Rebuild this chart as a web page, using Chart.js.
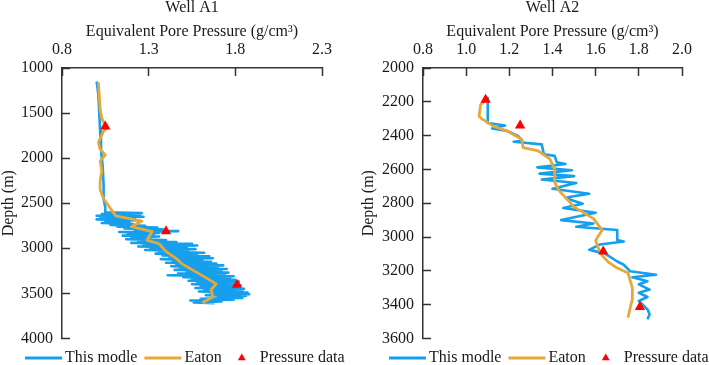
<!DOCTYPE html>
<html>
<head>
<meta charset="utf-8">
<title>Equivalent pore pressure - Well A1 and Well A2</title>
<script src="https://cdn.jsdelivr.net/npm/chart.js"></script>
<style>
  html, body { margin: 0; padding: 0; background: #fff; }
  body { width: 709px; height: 365px; position: relative; overflow: hidden; }
  canvas { position: absolute; top: 0; }
  #wellA1 { left: 0; }
  #wellA2 { left: 355px; }
</style>
</head>
<body>
<canvas id="wellA1" width="355" height="365"></canvas>
<canvas id="wellA2" width="354" height="365"></canvas>
<script>
// ---- Well A1 ----
const a1XTicks = [0.8, 1.3, 1.8, 2.3];
const a1YTicks = [1000, 1500, 2000, 2500, 3000, 3500, 4000];

// "This modle" curve (depth in m, equivalent pore pressure in g/cm3)
const a1ModelDepth = [1150, 1300, 1500, 1700, 1900, 2100, 2300, 2450, 2550, 2600,
  2610, 2620, 2630, 2640, 2650, 2660, 2670, 2680, 2690, 2700,
  2710, 2720, 2730, 2740, 2750, 2760, 2770, 2780, 2790, 2800,
  2810, 2820, 2830, 2840, 2850, 2860, 2870, 2880, 2890, 2900,
  2910, 2920, 2930, 2940, 2950, 2960, 2970, 2980, 2990, 3000,
  3010, 3020, 3030, 3040, 3050, 3060, 3070, 3080, 3090, 3100,
  3110, 3120, 3130, 3140, 3150, 3160, 3170, 3180, 3190, 3200,
  3210, 3220, 3230, 3240, 3250, 3260, 3270, 3280, 3290, 3300,
  3310, 3320, 3330, 3340, 3350, 3360, 3370, 3380, 3390, 3400,
  3410, 3420, 3430, 3440, 3450, 3460, 3470, 3480, 3490, 3500,
  3510, 3520, 3530, 3540, 3550, 3560, 3570, 3580, 3590, 3600, 3610];
const a1ModelEP = [1.00, 1.01, 1.015, 1.02, 1.025, 1.035, 1.04, 1.04, 1.05, 1.05,
  1.26, 1.03, 1.25, 1.00, 1.27, 1.02, 1.22, 1.00, 1.24, 1.05,
  1.19, 1.03, 1.21, 1.08, 1.28, 1.12, 1.35, 1.16, 1.38, 1.22,
  1.47, 1.13, 1.36, 1.18, 1.33, 1.15, 1.36, 1.20, 1.31, 1.17,
  1.40, 1.24, 1.46, 1.20, 1.55, 1.27, 1.58, 1.24, 1.52, 1.31,
  1.57, 1.28, 1.53, 1.36, 1.62, 1.34, 1.58, 1.38, 1.65, 1.42,
  1.67, 1.37, 1.61, 1.44, 1.66, 1.40, 1.69, 1.46, 1.73, 1.43,
  1.70, 1.48, 1.75, 1.45, 1.72, 1.52, 1.76, 1.47, 1.74, 1.41,
  1.79, 1.50, 1.77, 1.55, 1.80, 1.53, 1.82, 1.58, 1.79, 1.55,
  1.83, 1.60, 1.81, 1.57, 1.85, 1.62, 1.84, 1.59, 1.87, 1.66,
  1.88, 1.63, 1.86, 1.70, 1.84, 1.60, 1.79, 1.54, 1.72, 1.56, 1.68];

// Eaton curve
const a1EatonDepth = [1160, 1300, 1460, 1560, 1640, 1665, 1700, 1825, 1900, 1967,
  2030, 2140, 2250, 2350, 2450, 2560, 2640, 2700, 2760, 2815,
  2910, 2950, 3035, 3115, 3170, 3270, 3395, 3460, 3540, 3605];
const a1EatonEP = [1.01, 1.015, 1.02, 1.03, 1.05, 1.06, 1.04, 1.01, 1.02, 1.05,
  1.02, 1.03, 1.02, 1.02, 1.04, 1.08, 1.11, 1.26, 1.20, 1.32,
  1.29, 1.36, 1.40, 1.46, 1.49, 1.58, 1.69, 1.66, 1.67, 1.61];

// Measured pressure data
const a1DataDepth = [1650, 2810, 3405];
const a1DataEP = [1.05, 1.40, 1.81];

// ---- Well A2 ----
const a2XTicks = [0.8, 1.0, 1.2, 1.4, 1.6, 1.8, 2.0];
const a2YTicks = [2000, 2200, 2400, 2600, 2800, 3000, 3200, 3400, 3600];

const a2ModelDepth = [2178, 2325, 2340, 2358, 2372, 2402, 2430, 2436, 2442, 2452,
  2510, 2520, 2558, 2568, 2588, 2605, 2625, 2640, 2660, 2680,
  2715, 2744, 2765, 2783, 2803, 2828, 2856, 2900, 2920, 2939,
  2959, 3018, 3027, 3044, 3076, 3085, 3095, 3145, 3164, 3203,
  3223, 3238, 3262, 3280, 3311, 3330, 3355, 3379, 3428, 3457, 3487];
const a2ModelEP = [1.10, 1.10, 1.18, 1.12, 1.19, 1.24, 1.26, 1.22, 1.27, 1.35,
  1.36, 1.41, 1.42, 1.46, 1.33, 1.49, 1.34, 1.50, 1.35, 1.51,
  1.40, 1.57, 1.47, 1.49, 1.54, 1.45, 1.60, 1.44, 1.59, 1.51,
  1.70, 1.70, 1.73, 1.62, 1.57, 1.60, 1.64, 1.70, 1.73, 1.76,
  1.88, 1.77, 1.84, 1.80, 1.85, 1.80, 1.84, 1.80, 1.84, 1.85, 1.84];

const a2EatonDepth = [2190, 2217, 2285, 2298, 2344, 2373, 2422, 2471, 2490, 2539,
  2598, 2676, 2725, 2822, 2891, 2959, 3020, 3060, 3110, 3150,
  3184, 3213, 3301, 3369, 3418, 3477];
const a2EatonEP = [1.09, 1.067, 1.06, 1.07, 1.125, 1.19, 1.257, 1.264, 1.334, 1.388,
  1.41, 1.41, 1.43, 1.50, 1.59, 1.63, 1.60, 1.61, 1.63, 1.66,
  1.70, 1.75, 1.77, 1.77, 1.76, 1.75];

const a2DataDepth = [2188, 2340, 3086, 3414];
const a2DataEP = [1.09, 1.25, 1.635, 1.805];

const seriesLabels = ['This modle', 'Eaton', 'Pressure data'];

const BLUE = '#169fec';
const ORANGE = '#e5a93a';
const RED = '#ff0000';
const AXIS = '#333333';
const TEXT = '#1a1a1a';
const FONT = "'Liberation Serif', 'Times New Roman', serif";

Chart.defaults.font.family = FONT;
Chart.defaults.font.size = 16;
Chart.defaults.color = TEXT;

function toPoints(xs, ys) {
  return xs.map((x, i) => ({ x: x, y: ys[i] }));
}

// legend drawn under the plot, like the original figure
const bottomLegend = {
  id: 'bottomLegend',
  afterDraw(chart, args, opts) {
    const ctx = chart.ctx;
    const y = opts.y;
    let x = opts.x;
    ctx.save();
    ctx.font = '16px ' + FONT;
    ctx.textBaseline = 'middle';
    ctx.textAlign = 'left';
    chart.data.datasets.forEach(ds => {
      if (ds.showLine) {
        ctx.strokeStyle = ds.borderColor;
        ctx.lineWidth = 3;
        ctx.beginPath();
        ctx.moveTo(x, y);
        ctx.lineTo(x + 37, y);
        ctx.stroke();
        x += 40;
      } else {
        x += 13;
        ctx.fillStyle = ds.backgroundColor;
        Chart.helpers.drawPoint(ctx, { pointStyle: 'triangle', radius: 4.5, rotation: 0, borderWidth: 0 }, x, y);
        x += 18;
      }
      ctx.fillStyle = TEXT;
      ctx.fillText(ds.label, x, y);
      x += ctx.measureText(ds.label).width + 7;
    });
    ctx.restore();
  }
};

function makeWell(id, title, xTicks, yTicks, model, eaton, data, box) {
  const xMin = xTicks[0], xMax = xTicks[xTicks.length - 1];
  const yMin = yTicks[0], yMax = yTicks[yTicks.length - 1];
  return new Chart(document.getElementById(id), {
    type: 'scatter',
    data: {
      datasets: [
        {
          label: seriesLabels[0],
          data: model,
          showLine: true,
          borderColor: BLUE,
          backgroundColor: BLUE,
          borderWidth: 2.6,
          borderJoinStyle: 'round',
          pointRadius: 0,
          tension: 0,
          order: 3
        },
        {
          label: seriesLabels[1],
          data: eaton,
          showLine: true,
          borderColor: ORANGE,
          backgroundColor: ORANGE,
          borderWidth: 2.8,
          borderJoinStyle: 'round',
          pointRadius: 0,
          tension: 0,
          order: 2
        },
        {
          label: seriesLabels[2],
          data: data,
          showLine: false,
          pointStyle: 'triangle',
          pointRadius: 6,
          backgroundColor: RED,
          borderColor: RED,
          borderWidth: 0,
          order: 1
        }
      ]
    },
    options: {
      responsive: false,
      animation: false,
      events: [],
      layout: { padding: { left: 0, top: 0, right: box.right, bottom: 23.5 } },
      plugins: {
        legend: { display: false },
        tooltip: { enabled: false },
        bottomLegend: { x: box.legendX, y: 358 }
      },
      scales: {
        x: {
          type: 'linear',
          position: 'top',
          min: xMin,
          max: xMax,
          afterBuildTicks: s => { s.ticks = xTicks.map(v => ({ value: v })); },
          afterFit: s => { s.height = 68; },
          ticks: {
            padding: 17,
            color: TEXT,
            font: { family: FONT, size: 16 },
            callback: v => v.toFixed(1)
          },
          grid: { display: true, drawOnChartArea: false, drawTicks: true, tickLength: -8, tickColor: AXIS, tickWidth: 1.5 },
          border: { display: true, color: AXIS, width: 1.5 },
          title: {
            display: true,
            text: [title, 'Equivalent Pore Pressure (g/cm³)'],
            color: TEXT,
            font: { family: FONT, size: 16, lineHeight: 1.5 },
            padding: { top: -4, bottom: 0 }
          }
        },
        y: {
          type: 'linear',
          reverse: true,
          min: yMin,
          max: yMax,
          afterBuildTicks: s => { s.ticks = yTicks.map(v => ({ value: v })); },
          afterFit: s => { s.width = box.left; },
          ticks: {
            padding: 17,
            color: TEXT,
            font: { family: FONT, size: 16 },
            callback: v => String(v)
          },
          grid: { display: true, drawOnChartArea: false, drawTicks: true, tickLength: -8, tickColor: AXIS, tickWidth: 1.5 },
          border: { display: true, color: AXIS, width: 1.5 },
          title: {
            display: true,
            text: 'Depth (m)',
            color: TEXT,
            font: { family: FONT, size: 16, lineHeight: 1.2 },
            padding: { top: box.titlePad, bottom: 0 }
          }
        }
      }
    },
    plugins: [bottomLegend]
  });
}

function drawAll() {
  makeWell('wellA1', 'Well A1', a1XTicks, a1YTicks,
    toPoints(a1ModelEP, a1ModelDepth),
    toPoints(a1EatonEP, a1EatonDepth),
    toPoints(a1DataEP, a1DataDepth),
    { left: 62, right: 33, legendX: 25, titlePad: -1 });

  makeWell('wellA2', 'Well A2', a2XTicks, a2YTicks,
    toPoints(a2ModelEP, a2ModelDepth),
    toPoints(a2EatonEP, a2EatonDepth),
    toPoints(a2DataEP, a2DataDepth),
    { left: 68, right: 27, legendX: 34, titlePad: 4 });
}

// make sure the serif face is ready before the canvases are painted
document.fonts.load("16px 'Liberation Serif'").then(drawAll, drawAll);
</script>
</body>
</html>
